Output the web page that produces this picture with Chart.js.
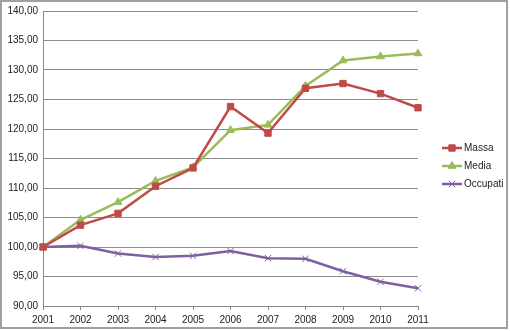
<!DOCTYPE html>
<html>
<head>
<meta charset="utf-8">
<script src="https://cdn.jsdelivr.net/npm/chart.js@4"></script>
<style>
  body { margin: 0; background: #fff; }
  #wrap { position: relative; width: 510px; height: 331px; }
</style>
</head>
<body>
<div id="wrap"><canvas id="chart" width="510" height="331"></canvas></div>
<script>
// Chart data
const years = ['2001', '2002', '2003', '2004', '2005', '2006', '2007', '2008', '2009', '2010', '2011'];
const massa = [100.0, 103.7, 105.7, 110.3, 113.4, 123.8, 119.3, 126.9, 127.7, 126.0, 123.6];
const media = [100.0, 104.6, 107.6, 111.2, 113.5, 119.8, 120.7, 127.3, 131.6, 132.3, 132.8];
const occupati = [100.0, 100.2, 98.9, 98.3, 98.5, 99.3, 98.1, 98.0, 95.9, 94.1, 93.0];

const FONT = 'Liberation Sans, Arial, sans-serif';

// Draws the outer frame and the Excel-style legend at right
const framePlugin = {
    id: 'frame',
    afterDraw(chart) {
        const ctx = chart.ctx;
        ctx.save();
        ctx.strokeStyle = '#a0a0a0';
        ctx.lineWidth = 2;
        ctx.strokeRect(1, 1, 506, 327);

        const x0 = 442, x1 = 462;
        let y = 148;
        chart.data.datasets.forEach(ds => {
            ctx.strokeStyle = ds.borderColor;
            ctx.fillStyle = ds.borderColor;
            ctx.lineWidth = ds.borderWidth;
            ctx.beginPath();
            ctx.moveTo(x0, y);
            ctx.lineTo(x1, y);
            ctx.stroke();
            ctx.lineWidth = 1;
            Chart.helpers.drawPoint(ctx, {
                pointStyle: ds.pointStyle,
                radius: ds.pointRadius,
                borderWidth: 1
            }, (x0 + x1) / 2, y);
            ctx.fillStyle = '#222';
            ctx.font = '10px ' + FONT;
            ctx.textBaseline = 'middle';
            ctx.textAlign = 'left';
            ctx.fillText(ds.label, x1 + 2, y);
            y += 18;
        });
        ctx.restore();
    }
};

function series(label, data, color, style, radius) {
    return {
        label: label,
        data: data,
        borderColor: color,
        backgroundColor: color,
        borderWidth: 2.5,
        pointStyle: style,
        pointRadius: radius,
        pointHoverRadius: radius,
        pointBorderWidth: 1,
        pointBorderColor: color,
        pointBackgroundColor: color,
        tension: 0
    };
}

const ctx = document.getElementById('chart').getContext('2d');
new Chart(ctx, {
    type: 'line',
    data: {
        labels: years,
        datasets: [
            series('Massa', massa, '#be4b48', 'rect', 4.5),
            series('Media', media, '#9bbb59', 'triangle', 4.5),
            series('Occupati', occupati, '#7d60a0', 'crossRot', 4.5)
        ]
    },
    options: {
        responsive: false,
        animation: false,
        layout: { padding: { top: 11, right: 92, left: 0, bottom: 0 } },
        plugins: {
            legend: { display: false },
            tooltip: { enabled: false }
        },
        scales: {
            x: {
                offset: false,
                grid: { drawOnChartArea: false, drawTicks: true, tickLength: 4, color: '#868686' },
                border: { color: '#868686' },
                ticks: { color: '#222', font: { family: FONT, size: 10 }, padding: 4, maxRotation: 0 },
                afterFit(scale) { scale.height = 25; }
            },
            y: {
                min: 90,
                max: 140,
                grid: { color: '#8c8c8c', drawTicks: false },
                border: { color: '#868686' },
                ticks: {
                    stepSize: 5,
                    color: '#222',
                    font: { family: FONT, size: 10 },
                    padding: 5,
                    callback: v => v.toFixed(2).replace('.', ',')
                },
                afterFit(scale) { scale.width = 43; }
            }
        }
    },
    plugins: [framePlugin]
});
</script>
</body>
</html>
